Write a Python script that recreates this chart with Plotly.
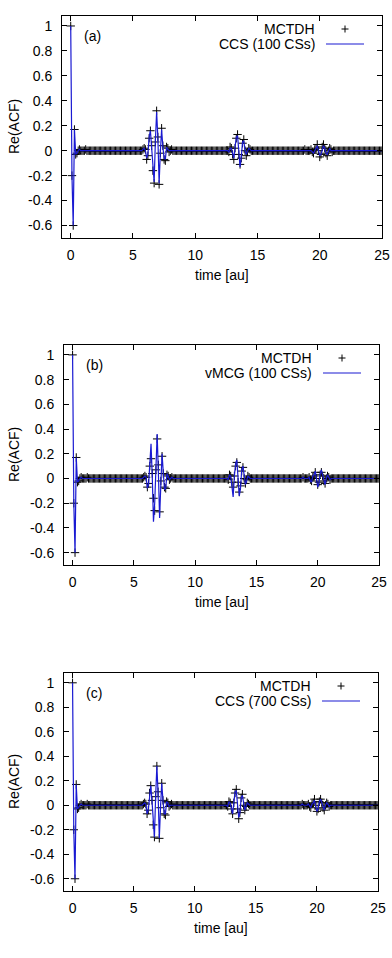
import plotly.graph_objects as go

# ---------------- data ----------------
# sampling times [au], one row per 1 au
time_au = [
    0.0, 0.1, 0.2, 0.3, 0.4, 0.5, 0.6, 0.7, 0.8, 0.9,
    1.0, 1.1, 1.2, 1.3, 1.4, 1.5, 1.6, 1.7, 1.8, 1.9,
    2.0, 2.1, 2.2, 2.3, 2.4, 2.5, 2.6, 2.7, 2.8, 2.9,
    3.0, 3.1, 3.2, 3.3, 3.4, 3.5, 3.6, 3.7, 3.8, 3.9,
    4.0, 4.1, 4.2, 4.3, 4.4, 4.5, 4.6, 4.7, 4.8, 4.9,
    5.0, 5.1, 5.2, 5.3, 5.4, 5.5, 5.6, 5.7, 5.8, 5.9,
    6.0, 6.1, 6.2, 6.3, 6.4, 6.5, 6.6, 6.7, 6.8, 6.9,
    7.0, 7.1, 7.2, 7.3, 7.4, 7.5, 7.6, 7.7, 7.8, 7.9,
    8.0, 8.1, 8.2, 8.3, 8.4, 8.5, 8.6, 8.7, 8.8, 8.9,
    9.0, 9.1, 9.2, 9.3, 9.4, 9.5, 9.6, 9.7, 9.8, 9.9,
    10.0, 10.1, 10.2, 10.3, 10.4, 10.5, 10.6, 10.7, 10.8, 10.9,
    11.0, 11.1, 11.2, 11.3, 11.4, 11.5, 11.6, 11.7, 11.8, 11.9,
    12.0, 12.1, 12.2, 12.3, 12.4, 12.5, 12.6, 12.7, 12.8, 12.9,
    13.0, 13.1, 13.2, 13.3, 13.4, 13.5, 13.6, 13.7, 13.8, 13.9,
    14.0, 14.1, 14.2, 14.3, 14.4, 14.5, 14.6, 14.7, 14.8, 14.9,
    15.0, 15.1, 15.2, 15.3, 15.4, 15.5, 15.6, 15.7, 15.8, 15.9,
    16.0, 16.1, 16.2, 16.3, 16.4, 16.5, 16.6, 16.7, 16.8, 16.9,
    17.0, 17.1, 17.2, 17.3, 17.4, 17.5, 17.6, 17.7, 17.8, 17.9,
    18.0, 18.1, 18.2, 18.3, 18.4, 18.5, 18.6, 18.7, 18.8, 18.9,
    19.0, 19.1, 19.2, 19.3, 19.4, 19.5, 19.6, 19.7, 19.8, 19.9,
    20.0, 20.1, 20.2, 20.3, 20.4, 20.5, 20.6, 20.7, 20.8, 20.9,
    21.0, 21.1, 21.2, 21.3, 21.4, 21.5, 21.6, 21.7, 21.8, 21.9,
    22.0, 22.1, 22.2, 22.3, 22.4, 22.5, 22.6, 22.7, 22.8, 22.9,
    23.0, 23.1, 23.2, 23.3, 23.4, 23.5, 23.6, 23.7, 23.8, 23.9,
    24.0, 24.1, 24.2, 24.3, 24.4, 24.5, 24.6, 24.7, 24.8, 24.9,
    25.0,
]

# MCTDH reference Re(ACF) (markers)
mctdh = [
    1.00, -0.20, -0.60, 0.17, -0.03, -0.02, 0.00, 0.01, 0.00, 0.00,
    0.00, 0.00, 0.01, 0.00, 0.00, 0.00, 0.00, 0.00, 0.00, 0.00,
    0.00, 0.00, 0.00, 0.00, 0.00, 0.00, 0.00, 0.00, 0.00, 0.00,
    0.00, 0.00, 0.00, 0.00, 0.00, 0.00, 0.00, 0.00, 0.00, 0.00,
    0.00, 0.00, 0.00, 0.00, 0.00, 0.00, 0.00, 0.00, 0.00, 0.00,
    0.00, 0.00, 0.00, 0.00, 0.00, 0.00, 0.00, 0.00, 0.01, 0.02,
    0.01, -0.07, -0.04, 0.10, 0.16, 0.04, -0.16, -0.26, 0.07, 0.32,
    0.11, -0.27, -0.02, 0.18, 0.04, -0.07, -0.08, 0.03, 0.02, -0.01,
    0.00, 0.01, 0.00, 0.00, 0.00, 0.00, 0.00, 0.00, 0.00, 0.00,
    0.00, 0.00, 0.00, 0.00, 0.00, 0.00, 0.00, 0.00, 0.00, 0.00,
    0.00, 0.00, 0.00, 0.00, 0.00, 0.00, 0.00, 0.00, 0.00, 0.00,
    0.00, 0.00, 0.00, 0.00, 0.00, 0.00, 0.00, 0.00, 0.00, 0.00,
    0.00, 0.00, 0.00, 0.00, 0.00, 0.00, 0.00, -0.01, 0.03, 0.02,
    -0.03, -0.07, 0.02, 0.10, 0.13, -0.03, -0.11, -0.06, 0.06, 0.09,
    0.00, -0.04, -0.01, 0.02, 0.01, 0.00, 0.00, 0.00, 0.00, 0.00,
    0.00, 0.00, 0.00, 0.00, 0.00, 0.00, 0.00, 0.00, 0.00, 0.00,
    0.00, 0.00, 0.00, 0.00, 0.00, 0.00, 0.00, 0.00, 0.00, 0.00,
    0.00, 0.00, 0.00, 0.00, 0.00, 0.00, 0.00, 0.00, 0.00, 0.00,
    0.00, 0.00, 0.00, 0.00, 0.00, 0.00, 0.00, 0.00, 0.01, 0.00,
    0.00, 0.00, 0.00, 0.01, -0.01, -0.02, 0.01, 0.02, 0.05, 0.00,
    -0.05, -0.03, 0.03, 0.05, 0.02, -0.02, -0.04, 0.00, 0.02, 0.01,
    -0.01, 0.00, 0.00, 0.00, 0.00, 0.00, 0.00, 0.00, 0.00, 0.00,
    0.00, 0.00, 0.00, 0.00, 0.00, 0.00, 0.00, 0.00, 0.00, 0.00,
    0.00, 0.00, 0.00, 0.00, 0.00, 0.00, 0.00, 0.00, 0.00, 0.00,
    0.00, 0.00, 0.00, 0.00, 0.00, 0.00, 0.00, 0.00, 0.00, 0.00,
    0.00,
]

# (a) CCS with 100 coherent states
ccs_100 = [
    1.00, -0.20, -0.60, 0.17, -0.03, -0.02, 0.00, 0.01, 0.00, 0.00,
    0.00, 0.00, 0.00, 0.00, 0.00, 0.00, 0.00, 0.00, 0.00, 0.00,
    0.00, 0.00, 0.00, 0.00, 0.00, 0.00, 0.00, 0.00, 0.00, 0.00,
    0.00, 0.00, 0.00, 0.00, 0.00, 0.00, 0.00, 0.00, 0.00, 0.00,
    0.00, 0.00, 0.00, 0.00, 0.00, 0.00, 0.00, 0.00, 0.00, 0.00,
    0.00, 0.00, 0.00, 0.00, 0.00, 0.00, 0.00, 0.00, 0.01, 0.02,
    0.00, -0.06, -0.03, 0.11, 0.16, 0.03, -0.17, -0.25, 0.08, 0.31,
    0.10, -0.26, -0.01, 0.17, 0.03, -0.06, -0.07, 0.03, 0.01, 0.00,
    0.00, 0.00, 0.00, 0.00, 0.00, 0.00, 0.00, 0.00, 0.00, 0.00,
    0.00, 0.00, 0.00, 0.00, 0.00, 0.00, 0.00, 0.00, 0.00, 0.00,
    0.00, 0.00, 0.00, 0.00, 0.00, 0.00, 0.00, 0.00, 0.00, 0.00,
    0.00, 0.00, 0.00, 0.00, 0.00, 0.00, 0.00, 0.00, 0.00, 0.00,
    0.00, 0.00, 0.00, 0.00, 0.00, 0.00, 0.00, -0.01, 0.02, 0.02,
    -0.02, -0.06, 0.03, 0.11, 0.12, -0.04, -0.13, -0.05, 0.07, 0.08,
    0.00, -0.03, -0.01, 0.02, 0.01, 0.00, 0.00, 0.00, 0.00, 0.00,
    0.00, 0.00, 0.00, 0.00, 0.00, 0.00, 0.00, 0.00, 0.00, 0.00,
    0.00, 0.00, 0.00, 0.00, 0.00, 0.00, 0.00, 0.00, 0.00, 0.00,
    0.00, 0.00, 0.00, 0.00, 0.00, 0.00, 0.00, 0.00, 0.00, 0.00,
    0.00, 0.00, 0.00, 0.00, 0.00, 0.00, 0.00, 0.00, 0.00, 0.00,
    0.00, 0.00, 0.00, 0.00, -0.01, -0.02, 0.00, 0.02, 0.04, 0.00,
    -0.04, -0.03, 0.02, 0.04, 0.02, -0.02, -0.03, 0.00, 0.02, 0.00,
    0.00, 0.00, 0.00, 0.00, 0.00, 0.00, 0.00, 0.00, 0.00, 0.00,
    0.00, 0.00, 0.00, 0.00, 0.00, 0.00, 0.00, 0.00, 0.00, 0.00,
    0.00, 0.00, 0.00, 0.00, 0.00, 0.00, 0.00, 0.00, 0.00, 0.00,
    0.00, 0.00, 0.00, 0.00, 0.00, 0.00, 0.00, 0.00, 0.00, 0.00,
    0.00,
]

# (b) vMCG with 100 coherent states
vmcg_100 = [
    1.00, -0.20, -0.60, 0.17, -0.03, -0.02, 0.00, 0.01, 0.00, 0.00,
    0.00, 0.00, 0.00, 0.00, 0.00, 0.00, 0.00, 0.00, 0.00, 0.00,
    0.00, 0.00, 0.00, 0.00, 0.00, 0.00, 0.00, 0.00, 0.00, 0.00,
    0.00, 0.00, 0.00, 0.00, 0.00, 0.00, 0.00, 0.00, 0.00, 0.00,
    0.00, 0.00, 0.00, 0.00, 0.00, 0.00, 0.00, 0.00, 0.00, 0.00,
    0.00, 0.00, 0.00, 0.00, 0.00, 0.00, 0.00, 0.00, 0.01, 0.02,
    0.01, -0.08, -0.05, 0.12, 0.28, 0.02, -0.35, -0.20, 0.10, 0.36,
    0.05, -0.32, -0.05, 0.20, 0.05, -0.09, -0.08, 0.04, 0.02, -0.01,
    0.00, 0.01, 0.00, 0.00, 0.00, 0.00, 0.00, 0.00, 0.00, 0.00,
    0.00, 0.00, 0.00, 0.00, 0.00, 0.00, 0.00, 0.00, 0.00, 0.00,
    0.00, 0.00, 0.00, 0.00, 0.00, 0.00, 0.00, 0.00, 0.00, 0.00,
    0.00, 0.00, 0.00, 0.00, 0.00, 0.00, 0.00, 0.00, 0.00, 0.00,
    0.00, 0.00, 0.00, 0.00, 0.00, 0.00, 0.00, -0.01, 0.03, 0.02,
    -0.06, -0.15, 0.02, 0.12, 0.15, -0.04, -0.14, -0.08, 0.07, 0.10,
    0.00, -0.05, -0.02, 0.02, 0.01, 0.00, 0.00, 0.00, 0.00, 0.00,
    0.00, 0.00, 0.00, 0.00, 0.00, 0.00, 0.00, 0.00, 0.00, 0.00,
    0.00, 0.00, 0.00, 0.00, 0.00, 0.00, 0.00, 0.00, 0.00, 0.00,
    0.00, 0.00, 0.00, 0.00, 0.00, 0.00, 0.00, 0.00, 0.00, 0.00,
    0.00, 0.00, 0.00, 0.00, 0.00, 0.00, 0.00, 0.00, 0.01, 0.00,
    0.00, 0.00, 0.00, 0.01, -0.02, -0.03, 0.02, 0.03, 0.06, 0.00,
    -0.07, -0.04, 0.04, 0.07, 0.02, -0.03, -0.05, 0.00, 0.03, 0.01,
    -0.01, 0.00, 0.00, 0.00, 0.00, 0.00, 0.00, 0.00, 0.00, 0.00,
    0.00, 0.00, 0.00, 0.00, 0.00, 0.00, 0.00, 0.00, 0.00, 0.00,
    0.00, 0.00, 0.00, 0.00, 0.00, 0.00, 0.00, 0.00, 0.00, 0.00,
    0.00, 0.00, 0.00, 0.00, 0.00, 0.00, 0.00, 0.00, 0.00, 0.00,
    0.00,
]

# (c) CCS with 700 coherent states
ccs_700 = [
    1.00, -0.20, -0.60, 0.17, -0.03, -0.02, 0.00, 0.01, 0.00, 0.00,
    0.00, 0.00, 0.00, 0.00, 0.00, 0.00, 0.00, 0.00, 0.00, 0.00,
    0.00, 0.00, 0.00, 0.00, 0.00, 0.00, 0.00, 0.00, 0.00, 0.00,
    0.00, 0.00, 0.00, 0.00, 0.00, 0.00, 0.00, 0.00, 0.00, 0.00,
    0.00, 0.00, 0.00, 0.00, 0.00, 0.00, 0.00, 0.00, 0.00, 0.00,
    0.00, 0.00, 0.00, 0.00, 0.00, 0.00, 0.00, 0.00, 0.01, 0.02,
    0.01, -0.07, -0.04, 0.10, 0.16, 0.04, -0.16, -0.26, 0.07, 0.32,
    0.10, -0.27, -0.02, 0.18, 0.04, -0.07, -0.07, 0.03, 0.02, -0.01,
    0.00, 0.00, 0.00, 0.00, 0.00, 0.00, 0.00, 0.00, 0.00, 0.00,
    0.00, 0.00, 0.00, 0.00, 0.00, 0.00, 0.00, 0.00, 0.00, 0.00,
    0.00, 0.00, 0.00, 0.00, 0.00, 0.00, 0.00, 0.00, 0.00, 0.00,
    0.00, 0.00, 0.00, 0.00, 0.00, 0.00, 0.00, 0.00, 0.00, 0.00,
    0.00, 0.00, 0.00, 0.00, 0.00, 0.00, 0.00, -0.01, 0.03, 0.02,
    -0.03, -0.07, 0.02, 0.11, 0.12, -0.03, -0.10, -0.06, 0.06, 0.08,
    0.00, -0.04, -0.01, 0.02, 0.01, 0.00, 0.00, 0.00, 0.00, 0.00,
    0.00, 0.00, 0.00, 0.00, 0.00, 0.00, 0.00, 0.00, 0.00, 0.00,
    0.00, 0.00, 0.00, 0.00, 0.00, 0.00, 0.00, 0.00, 0.00, 0.00,
    0.00, 0.00, 0.00, 0.00, 0.00, 0.00, 0.00, 0.00, 0.00, 0.00,
    0.00, 0.00, 0.00, 0.00, 0.00, 0.00, 0.00, 0.00, 0.01, 0.00,
    0.00, 0.00, 0.00, 0.01, -0.01, -0.02, 0.01, 0.02, 0.04, 0.00,
    -0.05, -0.03, 0.03, 0.05, 0.02, -0.02, -0.04, 0.00, 0.02, 0.01,
    -0.01, 0.00, 0.00, 0.00, 0.00, 0.00, 0.00, 0.00, 0.00, 0.00,
    0.00, 0.00, 0.00, 0.00, 0.00, 0.00, 0.00, 0.00, 0.00, 0.00,
    0.00, 0.00, 0.00, 0.00, 0.00, 0.00, 0.00, 0.00, 0.00, 0.00,
    0.00, 0.00, 0.00, 0.00, 0.00, 0.00, 0.00, 0.00, 0.00, 0.00,
    0.00,
]

panel_tags = ["(a)", "(b)", "(c)"]
series_names = ["CCS (100 CSs)", "vMCG (100 CSs)", "CCS (700 CSs)"]
series_values = [ccs_100, vmcg_100, ccs_700]
reference_name = "MCTDH"

x_tick_vals = [0, 5, 10, 15, 20, 25]
x_tick_text = ["0", "5", "10", "15", "20", "25"]
y_tick_vals = [-0.6, -0.4, -0.2, 0, 0.2, 0.4, 0.6, 0.8, 1]
y_tick_text = ["-0.6", "-0.4", "-0.2", "0", "0.2", "0.4", "0.6", "0.8", "1"]
x_title = "time [au]"
y_title = "Re(ACF)"

# ---------------- layout (pixel boxes of each plot frame) ----------------
W, H = 392, 958
boxes = [  # left, right, top, bottom in px
    (62, 382, 16, 238),
    (64, 379, 345, 565),
    (64, 378, 673, 891),
]
LINE_COLOR = "#1a1ad2"
FONT = "Liberation Sans, Arial, Helvetica, sans-serif"


def px(x):
    return x / W


def py(y):
    return 1 - y / H


fig = go.Figure()
shapes = []
annotations = []

for i, (l, r, t, b) in enumerate(boxes):
    sfx = "" if i == 0 else str(i + 1)
    xa, ya = "x" + sfx, "y" + sfx
    fig.add_trace(go.Scatter(
        x=time_au, y=mctdh, mode="markers", name=reference_name,
        xaxis=xa, yaxis=ya, showlegend=False,
        marker=dict(symbol="cross-thin", size=6, color="black",
                    line=dict(width=1, color="black")),
    ))
    fig.add_trace(go.Scatter(
        x=time_au, y=series_values[i], mode="lines", name=series_names[i],
        xaxis=xa, yaxis=ya, showlegend=False,
        line=dict(color=LINE_COLOR, width=1.2),
    ))
    axis_common = dict(
        showline=True, mirror="ticks", linecolor="black", linewidth=1,
        ticks="inside", ticklen=5, tickcolor="black", tickwidth=1,
        showgrid=False, zeroline=False, automargin=False,
        tickfont=dict(family=FONT, size=14, color="black"),
    )
    fig.layout["xaxis" + sfx] = dict(
        axis_common, domain=[px(l), px(r)], anchor=ya, range=[-0.7, 25],
        tickvals=x_tick_vals, ticktext=x_tick_text, ticklabelstandoff=4,
    )
    fig.layout["yaxis" + sfx] = dict(
        axis_common, domain=[py(b), py(t)], anchor=xa, range=[-0.7, 1.08],
        tickvals=y_tick_vals, ticktext=y_tick_text, ticklabelstandoff=6,
    )
    # axis titles
    annotations.append(dict(
        text=x_title, xref="paper", yref="paper", x=px((l + r) / 2), y=py(b + 37),
        xanchor="center", yanchor="middle", showarrow=False,
        font=dict(family=FONT, size=14, color="black"),
    ))
    annotations.append(dict(
        text=y_title, xref="paper", yref="paper", x=px(14), y=py((t + b) / 2),
        xanchor="center", yanchor="middle", showarrow=False, textangle=-90,
        font=dict(family=FONT, size=14, color="black"),
    ))
    # panel tag
    annotations.append(dict(
        text=panel_tags[i], xref="paper", yref="paper", x=px(l + 20), y=py(t + 20),
        xanchor="left", yanchor="middle", showarrow=False,
        font=dict(family=FONT, size=14, color="black"),
    ))
    # legend (gnuplot style: text right-aligned, key to the right)
    for k, label in enumerate([reference_name, series_names[i]]):
        yk = t + 13 + 15 * k
        annotations.append(dict(
            text=label, xref="paper", yref="paper", x=px(r - 65), y=py(yk),
            xanchor="right", yanchor="middle", showarrow=False,
            font=dict(family=FONT, size=14, color="black"),
        ))
    cx, cy = r - 37, t + 13
    shapes.append(dict(type="line", xref="paper", yref="paper",
                       x0=px(cx - 3.5), x1=px(cx + 3.5), y0=py(cy), y1=py(cy),
                       line=dict(color="black", width=1)))
    shapes.append(dict(type="line", xref="paper", yref="paper",
                       x0=px(cx), x1=px(cx), y0=py(cy - 3.5), y1=py(cy + 3.5),
                       line=dict(color="black", width=1)))
    shapes.append(dict(type="line", xref="paper", yref="paper",
                       x0=px(r - 56), x1=px(r - 18), y0=py(t + 28), y1=py(t + 28),
                       line=dict(color=LINE_COLOR, width=1.2)))

fig.update_layout(
    width=W, height=H, margin=dict(l=0, r=0, t=0, b=0),
    template="none", paper_bgcolor="white", plot_bgcolor="white",
    font=dict(family=FONT, size=14, color="black"),
    shapes=shapes, annotations=annotations, showlegend=False,
)

fig.write_html("out.html")
